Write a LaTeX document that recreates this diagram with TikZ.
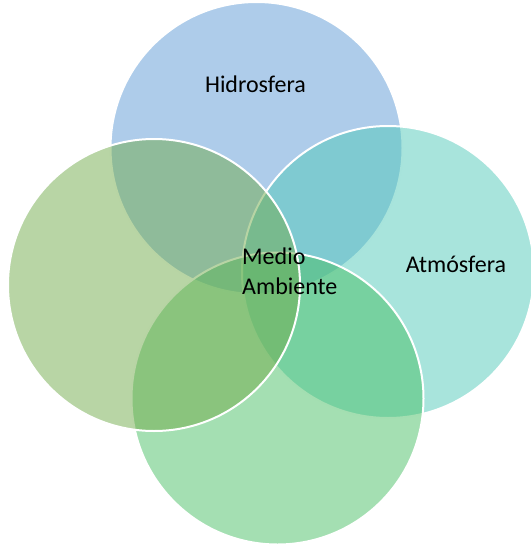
\documentclass[tikz,border=0pt]{standalone}
\usepackage{fontspec}
\setmainfont{Carlito}
\definecolor{cTop}{RGB}{93,153,213}
\definecolor{cRight}{RGB}{81,201,185}
\definecolor{cBottom}{RGB}{73,191,101}
\definecolor{cLeft}{RGB}{113,171,75}
\begin{document}
\begin{tikzpicture}[x=1pt,y=-1pt,
  circ/.style={circle, minimum size=292pt, inner sep=0pt, draw=white, line width=2pt, fill opacity=0.5, draw opacity=1},
  lbl/.style={font=\fontsize{24}{30}\selectfont, text=black, inner sep=0pt}]
\useasboundingbox (0,0) rectangle (530,546);
\node[circ, fill=cTop] (top) at (256.5,148) {};
\node[circ, fill=cRight] (right) at (388,272) {};
\node[circ, fill=cBottom] (bottom) at (277.5,398.5) {};
\node[circ, fill=cLeft] (left) at (154,285) {};
\node[lbl, anchor=base] (hid) at (255.5,92) {Hidrosfera};
\node[lbl, anchor=base] (atm) at (456,272) {Atmósfera};
\node[lbl, align=left, anchor=north west] (med) at (242,248) {Medio\\Ambiente};
\end{tikzpicture}
\end{document}
